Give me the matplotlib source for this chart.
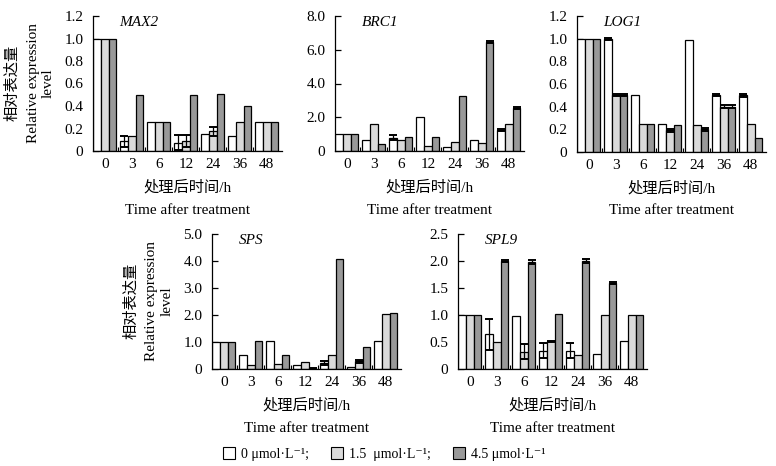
import numpy as np
import matplotlib
matplotlib.use("Agg")
import matplotlib.pyplot as plt
from matplotlib.patches import Patch
from matplotlib.ticker import FixedLocator

plt.rcParams['font.family'] = ['Liberation Serif', 'Noto Sans CJK SC', 'DejaVu Serif']
plt.rcParams['mathtext.fontset'] = 'stix'

# ---------------- data ----------------
times = ["0", "3", "6", "12", "24", "36", "48"]
series_labels = ["0 μmol·L⁻¹;", "1.5  μmol·L⁻¹;", "4.5 μmol·L⁻¹"]

max2_0 = [1.0, 0.085, 0.26, 0.075, 0.15, 0.13, 0.26]
max2_15 = [1.0, 0.13, 0.26, 0.09, 0.175, 0.26, 0.26]
max2_45 = [1.0, 0.50, 0.26, 0.50, 0.51, 0.40, 0.26]
max2_e0 = [0, 0.045, 0, 0.065, 0, 0, 0]
max2_e15 = [0, 0, 0, 0.05, 0.04, 0, 0]
max2_e45 = [0, 0, 0, 0, 0, 0, 0]

brc1_0 = [1.0, 0.66, 0.78, 2.02, 0.25, 0.66, 1.25]
brc1_15 = [1.0, 1.61, 0.66, 0.31, 0.55, 0.48, 1.61]
brc1_45 = [1.0, 0.42, 0.85, 0.85, 3.25, 6.45, 2.53]
brc1_e0 = [0, 0, 0.15, 0, 0, 0, 0.06]
brc1_e15 = [0, 0, 0, 0, 0, 0, 0]
brc1_e45 = [0, 0, 0, 0, 0, 0.05, 0.05]

log1_0 = [1.0, 1.0, 0.50, 0.25, 0.99, 0.50, 0.50]
log1_15 = [1.0, 0.50, 0.25, 0.19, 0.24, 0.40, 0.25]
log1_45 = [1.0, 0.50, 0.25, 0.24, 0.20, 0.40, 0.12]
log1_e0 = [0, 0.01, 0, 0, 0, 0.01, 0.012]
log1_e15 = [0, 0.01, 0, 0.015, 0, 0.012, 0]
log1_e45 = [0, 0.01, 0, 0, 0.012, 0.012, 0]

sps_0 = [1.0, 0.52, 1.03, 0.15, 0.22, 0.07, 1.03]
sps_15 = [1.0, 0.15, 0.17, 0.27, 0.52, 0.28, 2.04]
sps_45 = [1.0, 1.04, 0.52, 0.02, 4.07, 0.81, 2.07]
sps_e0 = [0, 0, 0, 0, 0.08, 0, 0]
sps_e15 = [0, 0, 0, 0, 0, 0.05, 0]
sps_e45 = [0, 0, 0, 0.02, 0, 0, 0]

spl9_0 = [1.0, 0.64, 0.99, 0.34, 0.34, 0.28, 0.52]
spl9_15 = [1.0, 0.50, 0.32, 0.51, 0.26, 1.0, 1.0]
spl9_45 = [1.0, 2.0, 1.98, 1.02, 2.0, 1.59, 1.0]
spl9_e0 = [0, 0.29, 0, 0.14, 0.14, 0, 0]
spl9_e15 = [0, 0, 0.14, 0.015, 0, 0, 0]
spl9_e45 = [0, 0.015, 0.035, 0, 0.03, 0.02, 0]

max2_ticks = ["0", "0.2", "0.4", "0.6", "0.8", "1.0", "1.2"]
brc1_ticks = ["0", "2.0", "4.0", "6.0", "8.0"]
log1_ticks = ["0", "0.2", "0.4", "0.6", "0.8", "1.0", "1.2"]
sps_ticks = ["0", "1.0", "2.0", "3.0", "4.0", "5.0"]
spl9_ticks = ["0", "0.5", "1.0", "1.5", "2.0", "2.5"]

# ---------------- style ----------------
colors = ["#ffffff", "#dadada", "#999999"]
W, H = 776, 466
fig = plt.figure(figsize=(W / 100, H / 100), dpi=100)

def add_ax(l, r, t, b):
    return fig.add_axes([l / W, 1 - b / H, (r - l) / W, (b - t) / H])

def panel(l, r, t, b, name, vals, errs, ticks, ymax):
    ax = add_ax(l, r, t, b)
    x = np.arange(len(times))
    w = 0.285
    for k in range(3):
        ax.bar(x + (k - 1) * w, vals[k], width=w, color=colors[k],
               edgecolor="black", linewidth=0.9, zorder=2)
        e = np.array(errs[k], dtype=float)
        m = e > 0
        if m.any():
            ax.errorbar((x + (k - 1) * w)[m], np.array(vals[k])[m], yerr=e[m],
                        fmt="none", ecolor="black", elinewidth=0.9,
                        capsize=2.6, capthick=1.4, zorder=3)
    ax.set_xlim(-1.5 * w - 0.01, -1.5 * w - 0.01 + 7)
    ax.set_ylim(0, ymax)
    yt = [float(s) for s in ticks]
    ax.set_yticks(yt)
    ax.set_yticklabels(ticks)
    ax.set_xticks(x)
    ax.set_xticklabels(times)
    ax.xaxis.set_minor_locator(FixedLocator(x[:-1] + 0.5))
    ax.tick_params(axis="x", which="major", length=0, pad=5, labelsize=11)
    ax.tick_params(axis="x", which="minor", direction="in", length=3, width=0.8)
    ax.tick_params(axis="y", direction="in", length=4, width=0.9, pad=7, labelsize=11)
    for s in ["top", "right"]:
        ax.spines[s].set_visible(False)
    for s in ["left", "bottom"]:
        ax.spines[s].set_linewidth(0.9)
    ax.text(0.14, 1.0, name, transform=ax.transAxes, style="italic",
            fontsize=11, va="top", ha="left")
    cx = (l + r) / 2
    fig.text(cx / W, 1 - (b + 36) / H, "处理后时间/h", fontsize=11,
             ha="center", va="center")
    fig.text(cx / W, 1 - (b + 59) / H, "Time after treatment", fontsize=11,
             ha="center", va="center")
    return ax

panel(93, 282, 16, 151, "MAX2", [max2_0, max2_15, max2_45],
      [max2_e0, max2_e15, max2_e45], max2_ticks, 1.2)
panel(335, 524, 16, 151, "BRC1", [brc1_0, brc1_15, brc1_45],
      [brc1_e0, brc1_e15, brc1_e45], brc1_ticks, 8.0)
panel(577, 766, 16, 152, "LOG1", [log1_0, log1_15, log1_45],
      [log1_e0, log1_e15, log1_e45], log1_ticks, 1.2)
panel(212, 401, 234, 369, "SPS", [sps_0, sps_15, sps_45],
      [sps_e0, sps_e15, sps_e45], sps_ticks, 5.0)
panel(458, 647, 234, 369, "SPL9", [spl9_0, spl9_15, spl9_45],
      [spl9_e0, spl9_e15, spl9_e45], spl9_ticks, 2.5)

def ylabel(axl, cy):
    fig.text((axl - 81) / W, 1 - cy / H, "相对表达量", rotation=90,
             fontsize=11, ha="center", va="center")
    fig.text((axl - 60) / W, 1 - cy / H, "Relative expression", rotation=90,
             fontsize=11, ha="center", va="center")
    fig.text((axl - 45) / W, 1 - cy / H, "level", rotation=90,
             fontsize=11, ha="center", va="center")

ylabel(93, 83)
ylabel(212, 301)

handles = [Patch(facecolor=c, edgecolor="black", linewidth=0.8) for c in colors]
fig.legend(handles, series_labels, loc="center", bbox_to_anchor=(384 / W, 1 - 454 / H),
           ncol=3, frameon=False, fontsize=10, handlelength=0.9, handleheight=0.9,
           handletextpad=0.4, columnspacing=1.6)

fig.savefig("out.png", dpi=100)
